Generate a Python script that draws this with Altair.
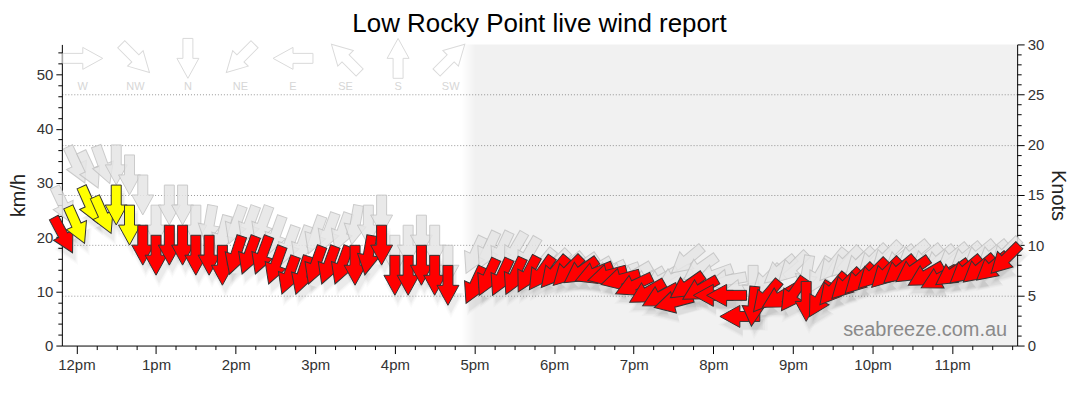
import altair as alt
import pandas as pd

DATE = "2024-06-20"

# observation times (10-minute readings; 16:50 missing)
TIMES = [
    "11:50", "12:00", "12:10", "12:20", "12:30", "12:40", "12:50",
    "13:00", "13:10", "13:20", "13:30", "13:40", "13:50",
    "14:00", "14:10", "14:20", "14:30", "14:40", "14:50",
    "15:00", "15:10", "15:20", "15:30", "15:40", "15:50",
    "16:00", "16:10", "16:20", "16:30", "16:40",
    "17:00", "17:10", "17:20", "17:30", "17:40", "17:50",
    "18:00", "18:10", "18:20", "18:30", "18:40", "18:50",
    "19:00", "19:10", "19:20", "19:30", "19:40", "19:50",
    "20:00", "20:10", "20:20", "20:30", "20:40", "20:50",
    "21:00", "21:10", "21:20", "21:30", "21:40", "21:50",
    "22:00", "22:10", "22:20", "22:30", "22:40", "22:50",
    "23:00", "23:10", "23:20", "23:30", "23:40",
]

# average wind speed (knots) and direction the wind comes from (degrees)
SPEED_KN = [
    11, 12, 14, 13, 14, 12, 10,
    9, 10, 10, 9, 9, 8,
    9, 9, 9, 8, 7, 7,
    8, 8, 8, 8, 9, 10,
    7, 7, 8, 7, 6,
    6, 6.8, 6.8, 6.9, 7.1, 7.2,
    7.3, 7.4, 7.4, 7.2, 7, 6.6,
    6, 5.3, 4.9, 4.3, 5.9, 5.6,
    5, 5, 2.9, 3.9, 4.9, 4.8,
    5.1, 4.4, 4.6, 5.6, 6.1, 6.6,
    7.1, 7.2, 7.5, 7.5, 7, 6.7,
    7.2, 7.5, 7.6, 7.8, 8.6,
]
SPEED_DIR = [
    332, 336, 336, 336, 0, 0, 0,
    0, 0, 0, 0, 0, 0,
    18, 20, 20, 20, 20, 18,
    20, 20, 20, 0, 10, 0,
    0, 0, 0, 0, 0,
    25, 25, 25, 25, 28, 35,
    40, 45, 55, 68, 75, 75,
    65, 60, 62, 75, 55, 60,
    90, 90, 90, 5, 40, 60,
    35, 0, 30, 40, 45, 45,
    45, 45, 50, 55, 60, 62,
    55, 50, 50, 50, 45,
]

# gusts (knots) and direction
GUST_KN = [
    14, 18, 17.5, 18, 18, 17, 15,
    12, 14, 14, 12, 12, 11,
    12, 12, 12, 11, 10, 10,
    11, 11.3, 11.3, 12, 12, 13,
    9, 10, 11, 10, 8,
    9, 9.5, 9.5, 9.5, 9, 8,
    8, 7.8, 7.8, 7.5, 7.3, 7.2,
    7, 6.5, 6.5, 6.7, 8.5, 7.7,
    7, 6.5, 5.5, 6, 6.5, 7.5,
    7.8, 7, 7, 8, 8.3, 8.2,
    8.5, 8.8, 8.5, 9, 8.6, 8.5,
    8.7, 8.8, 9, 9, 9.2,
]
GUST_DIR = [
    335, 335, 335, 340, 0, 0, 0,
    0, 0, 0, 0, 10, 15,
    20, 20, 20, 20, 20, 20,
    20, 20, 20, 10, 0, 0,
    0, 0, 0, 0, 0,
    25, 25, 25, 30, 30, 40,
    45, 50, 55, 60, 65, 70,
    60, 60, 60, 60, 50, 55,
    70, 80, 80, 0, 45, 50,
    45, 10, 30, 40, 45, 45,
    45, 45, 50, 50, 50, 50,
    50, 50, 50, 50, 45,
]

COMPASS_LABELS = ["W", "NW", "N", "NE", "E", "SE", "S", "SW"]
COMPASS_ANGLES = [270, 315, 0, 45, 90, 135, 180, 225]

NIGHT_START = "16:50"
RANGE_START, RANGE_END = "11:49", "23:49"
HOURS = list(range(12, 24))
KMH_TICKS = list(range(0, 56, 2))
KNOT_TICKS = list(range(0, 31))

# ---------------------------------------------------------------- layout/style
W, H = 958, 302
FONT = "Liberation Sans"
ARROW = "M -0.25 -1 L 0.25 -1 L 0.25 0 L 0.55 0 L 0 1 L -0.55 0 L -0.25 0 Z"
ASIZE = 1600


def stamp(t):
    return f"{DATE}T{t}:00"


def dt(h, m):
    return alt.DateTime(year=2024, month=6, date=20, hours=h, minutes=m)


df = pd.DataFrame({
    "time": [stamp(t) for t in TIMES],
    "speed": SPEED_KN,
    "dir": SPEED_DIR,
    "gust": GUST_KN,
    "gdir": GUST_DIR,
})
df["color"] = ["#ffff00" if s >= 12 else "#ff0000" for s in SPEED_KN]

night = pd.DataFrame({"start": [stamp(NIGHT_START)], "end": [stamp(RANGE_END)]})
legend_df = pd.DataFrame({"label": COMPASS_LABELS, "ang": COMPASS_ANGLES})
mark_df = pd.DataFrame({"t": ["seabreeze.com.au"]})

rh, rm = map(int, RANGE_START.split(":"))
eh, em = map(int, RANGE_END.split(":"))
xscale = alt.Scale(domain=[dt(rh, rm), dt(eh, em)])
xticks = [dt(h, m) for h in HOURS for m in (0, 15, 30, 45)]

x_axis = alt.Axis(
    values=xticks,
    labelExpr="minutes(datum.value) === 0 ? lower(timeFormat(datum.value, '%-I%p')) : ''",
    tickSize=8,
    tickDash={"condition": {"test": "minutes(datum.value) !== 0", "value": [4, 20]},
              "value": [10, 0]},
    labelOverlap=False, labelFlush=False, labelPadding=4, grid=False, title=None,
)

km_axis = alt.Axis(
    values=KMH_TICKS, orient="left", title="km/h",
    labelExpr="datum.value % 10 === 0 ? datum.value : ''",
    tickSize=6,
    tickDash={"condition": {"test": "datum.value % 10 !== 0", "value": [4, 20]},
              "value": [10, 0]},
    labelOverlap=False, labelFlush=False, labelPadding=3, grid=False, titlePadding=8,
)

kn_axis = alt.Axis(
    values=KNOT_TICKS, orient="right", title="Knots",
    labelExpr="datum.value % 5 === 0 ? datum.value : ''",
    tickSize=7,
    tickDash={"condition": {"test": "datum.value % 5 !== 0", "value": [4, 20]},
              "value": [10, 0]},
    labelOverlap=False, labelFlush=False, labelPadding=3, titlePadding=4,
    grid=True, gridColor="#999", gridDash=[1, 2], gridWidth=1,
    gridOpacity={"condition": {"test": "datum.value % 5 === 0 && datum.value > 0 && datum.value < 30",
                               "value": 1}, "value": 0},
)

kn_scale = alt.Scale(domain=[0, 30], nice=False, zero=True)
X = alt.X("time:T", scale=xscale, axis=x_axis)

km_layer = alt.Chart(df).mark_point(opacity=0).transform_calculate(
    kmh="datum.speed * 1.852"
).encode(
    x=X,
    y=alt.Y("kmh:Q", scale=alt.Scale(domain=[0, 30 * 1.852], nice=False, zero=True), axis=km_axis),
)

night_layer = alt.Chart(night).mark_rect(
    fill=alt.Gradient(
        gradient="linear",
        stops=[alt.GradientStop(offset=0, color="rgba(0,0,0,0)"),
               alt.GradientStop(offset=0.025, color="rgba(0,0,0,0.055)"),
               alt.GradientStop(offset=1, color="rgba(0,0,0,0.055)")],
        x1=0, x2=1, y1=0, y2=0,
    )
).encode(
    x=alt.X("start:T", scale=xscale, axis=x_axis),
    x2="end:T",
    y=alt.value(0),
    y2=alt.value(H),
)

shadows = []
for sz, op in [(1.0, 0.035), (1.25, 0.025), (1.55, 0.018)]:
    shadows.append(
        alt.Chart(df).mark_point(
            shape=ARROW, filled=True, fill="black", strokeWidth=0,
            opacity=op, size=ASIZE * sz, xOffset=3, yOffset=8,
        ).encode(
            x=X,
            y=alt.Y("speed:Q", scale=kn_scale, axis=kn_axis),
            angle=alt.Angle("dir:Q", scale=None),
        )
    )

gust_layer = alt.Chart(df).mark_point(
    shape=ARROW, filled=True, fill="#e6e6e6", stroke="#c2c2c2", strokeWidth=1,
    opacity=0.85, size=ASIZE,
).encode(
    x=X,
    y=alt.Y("gust:Q", scale=kn_scale, axis=kn_axis),
    angle=alt.Angle("gdir:Q", scale=None),
)

speed_layer = alt.Chart(df).mark_point(
    shape=ARROW, filled=True, stroke="#333", strokeWidth=1, opacity=1, size=ASIZE,
).encode(
    x=X,
    y=alt.Y("speed:Q", scale=kn_scale, axis=kn_axis),
    angle=alt.Angle("dir:Q", scale=None),
    color=alt.Color("color:N", scale=None),
)

legend_base = alt.Chart(legend_df).transform_window(
    i="row_number()"
).transform_calculate(px="21 + 52.7 * (datum.i - 1)")

legend_arrows = legend_base.mark_point(
    shape=ARROW, filled=True, fill="white", stroke="#dadada", strokeWidth=1,
    opacity=1, size=ASIZE,
).encode(
    x=alt.X("px:Q", scale=None, axis=None),
    y=alt.value(14),
    angle=alt.Angle("ang:Q", scale=None),
)

legend_labels = legend_base.mark_text(
    font=FONT, fontSize=11, color="#d6d6d6", baseline="middle",
).encode(
    x=alt.X("px:Q", scale=None, axis=None),
    y=alt.value(43),
    text="label:N",
)

watermark = alt.Chart(mark_df).mark_text(
    font=FONT, fontSize=20, color="#8a8a8a", align="right", baseline="alphabetic",
).encode(
    x=alt.value(W - 10),
    y=alt.value(H - 10),
    text="t:N",
)

inner = alt.layer(night_layer, *shadows, gust_layer, speed_layer,
                  legend_arrows, legend_labels, watermark)

chart = alt.layer(km_layer, inner).resolve_scale(y="independent").properties(
    width=W, height=H,
    padding={"top": 3, "right": 4, "left": 0, "bottom": 0},
    title=alt.TitleParams(
        "Low Rocky Point live wind report", font=FONT, fontSize=26,
        fontWeight="normal", color="black", anchor="middle", offset=-1,
    ),
).configure_view(stroke=None).configure_axis(
    domainColor="black", tickColor="black", domainWidth=1, tickWidth=1,
    labelFont=FONT, labelFontSize=15, labelColor="#333",
    titleFont=FONT, titleFontSize=20, titleFontWeight="normal", titleColor="#222",
)

chart.save("out.html", embed_options={"renderer": "svg", "actions": False})
